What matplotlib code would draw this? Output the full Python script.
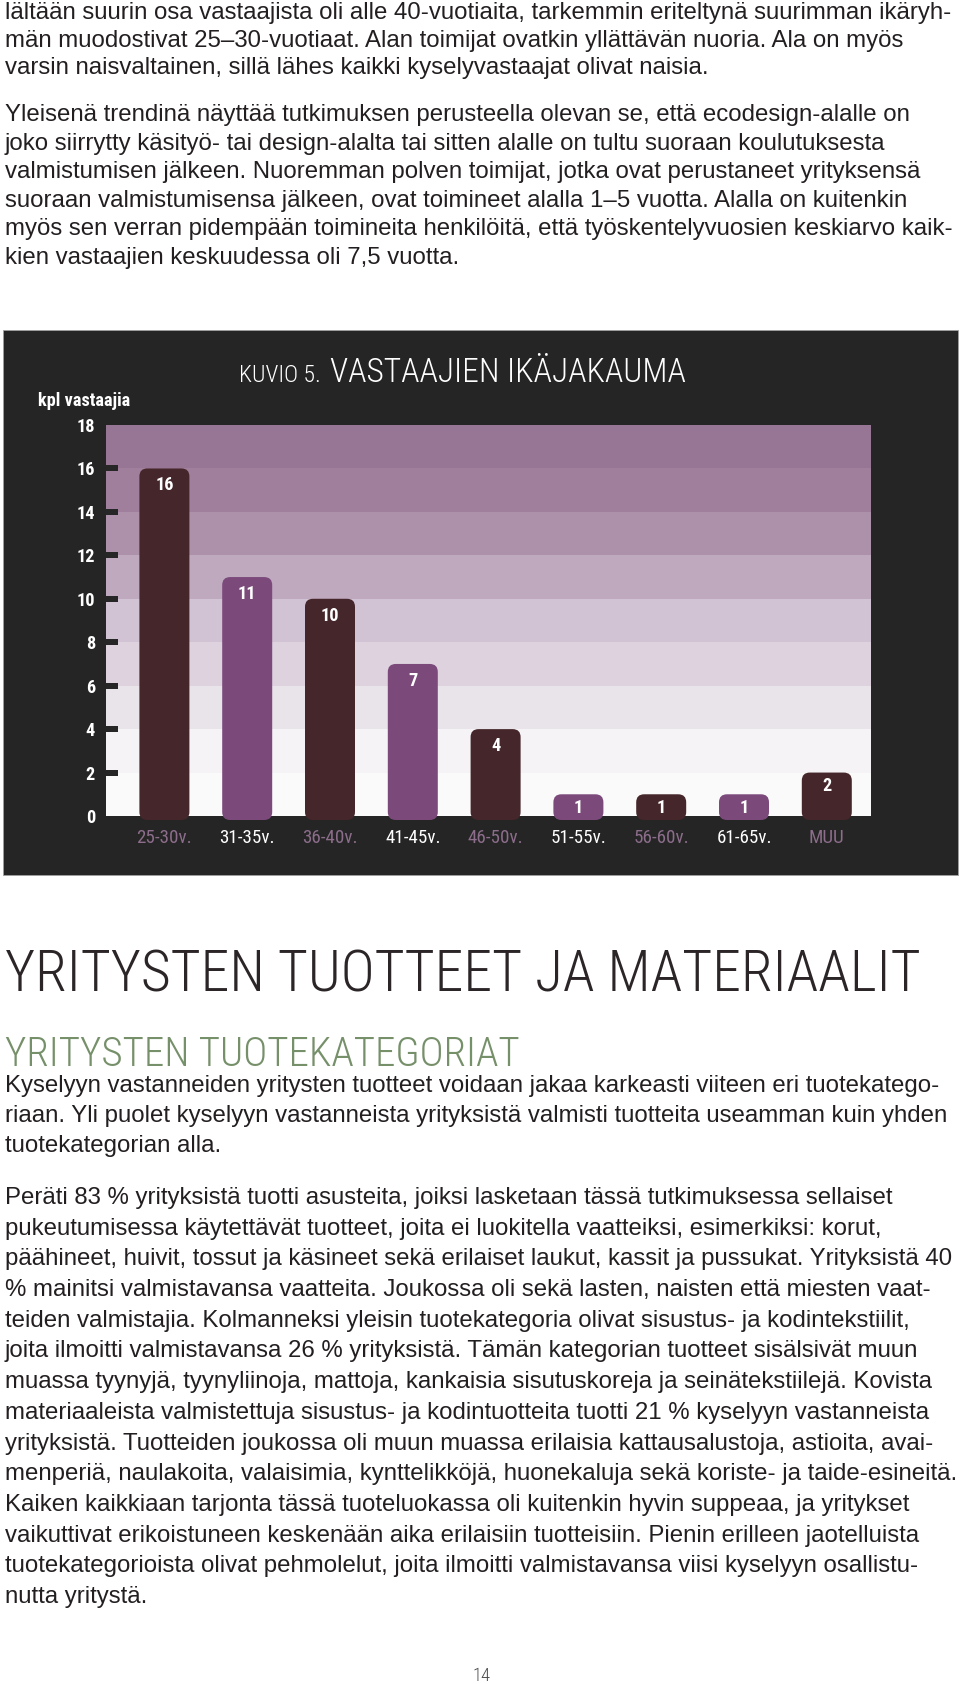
import os
import matplotlib
matplotlib.use("Agg")
import matplotlib.pyplot as plt
from matplotlib import font_manager as fm
from matplotlib.font_manager import FontProperties
from matplotlib.textpath import TextPath
from matplotlib.patches import Rectangle, FancyBboxPatch

W, H, DPI = 960, 1684, 100

# ---------------- data ----------------
categories = ["25-30v.", "31-35v.", "36-40v.", "41-45v.", "46-50v.",
              "51-55v.", "56-60v.", "61-65v.", "MUU"]
counts = [16, 11, 10, 7, 4, 1, 1, 1, 2]
ytick_values = [0, 2, 4, 6, 8, 10, 12, 14, 16, 18]
ytick_labels = [str(v) for v in ytick_values]
y_axis_label = "kpl vastaajia"
chart_prefix = "KUVIO 5."
chart_title = "VASTAAJIEN IKÄJAKAUMA"

para1 = [
    "lältään suurin osa vastaajista oli alle 40-vuotiaita, tarkemmin eriteltynä suurimman ikäryh-",
    "män muodostivat 25–30-vuotiaat. Alan toimijat ovatkin yllättävän nuoria. Ala on myös",
    "varsin naisvaltainen, sillä lähes kaikki kyselyvastaajat olivat naisia.",
]
para2 = [
    "Yleisenä trendinä näyttää tutkimuksen perusteella olevan se, että ecodesign-alalle on",
    "joko siirrytty käsityö- tai design-alalta tai sitten alalle on tultu suoraan koulutuksesta",
    "valmistumisen jälkeen. Nuoremman polven toimijat, jotka ovat perustaneet yrityksensä",
    "suoraan valmistumisensa jälkeen, ovat toimineet alalla 1–5 vuotta. Alalla on kuitenkin",
    "myös sen verran pidempään toimineita henkilöitä, että työskentelyvuosien keskiarvo kaik-",
    "kien vastaajien keskuudessa oli 7,5 vuotta.",
]
heading = "YRITYSTEN TUOTTEET JA MATERIAALIT"
subheading = "YRITYSTEN TUOTEKATEGORIAT"
para3 = [
    "Kyselyyn vastanneiden yritysten tuotteet voidaan jakaa karkeasti viiteen eri tuotekatego-",
    "riaan. Yli puolet kyselyyn vastanneista yrityksistä valmisti tuotteita useamman kuin yhden",
    "tuotekategorian alla.",
]
para4 = [
    "Peräti 83 % yrityksistä tuotti asusteita, joiksi lasketaan tässä tutkimuksessa sellaiset",
    "pukeutumisessa käytettävät tuotteet, joita ei luokitella vaatteiksi, esimerkiksi: korut,",
    "päähineet, huivit, tossut ja käsineet sekä erilaiset laukut, kassit ja pussukat. Yrityksistä 40",
    "% mainitsi valmistavansa vaatteita. Joukossa oli sekä lasten, naisten että miesten vaat-",
    "teiden valmistajia. Kolmanneksi yleisin tuotekategoria olivat sisustus- ja kodintekstiilit,",
    "joita ilmoitti valmistavansa 26 % yrityksistä. Tämän kategorian tuotteet sisälsivät muun",
    "muassa tyynyjä, tyynyliinoja, mattoja, kankaisia sisutuskoreja ja seinätekstiilejä. Kovista",
    "materiaaleista valmistettuja sisustus- ja kodintuotteita tuotti 21 % kyselyyn vastanneista",
    "yrityksistä. Tuotteiden joukossa oli muun muassa erilaisia kattausalustoja, astioita, avai-",
    "menperiä, naulakoita, valaisimia, kynttelikköjä, huonekaluja sekä koriste- ja taide-esineitä.",
    "Kaiken kaikkiaan tarjonta tässä tuoteluokassa oli kuitenkin hyvin suppeaa, ja yritykset",
    "vaikuttivat erikoistuneen keskenään aika erilaisiin tuotteisiin. Pienin erilleen jaotelluista",
    "tuotekategorioista olivat pehmolelut, joita ilmoitti valmistavansa viisi kyselyyn osallistu-",
    "nutta yritystä.",
]
page_number = "14"

# ---------------- fonts ----------------
_files = {os.path.basename(f.fname).lower(): f.fname for f in fm.fontManager.ttflist}


def pick(cands, family, weight="normal"):
    for c in cands:
        if c.lower() in _files:
            return FontProperties(fname=_files[c.lower()])
    return FontProperties(family=family, weight=weight)


light_cond = pick(["RobotoCondensed-Light.ttf", "OpenSans_Condensed-Light.ttf",
                   "OpenSansCondensed-Light.ttf", "OpenSans-CondLight.ttf",
                   "LiberationSansNarrow-Regular.ttf", "DejaVuSansCondensed.ttf",
                   "Roboto-Light.ttf"], "Liberation Sans")
reg_cond = pick(["RobotoCondensed-Regular.ttf", "LiberationSansNarrow-Regular.ttf",
                 "OpenSans_Condensed-Regular.ttf", "DejaVuSansCondensed.ttf"],
                "Liberation Sans")
bold_cond = pick(["RobotoCondensed-Bold.ttf", "LiberationSansNarrow-Bold.ttf",
                  "OpenSans_Condensed-Bold.ttf", "DejaVuSansCondensed-Bold.ttf"],
                 "Liberation Sans", "bold")
body_fp = FontProperties(family="Liberation Sans")


def _ext(s, fp):
    return TextPath((0, 0), s, size=100, prop=fp).get_extents()


def pt_for_width(s, fp, wpx):
    return wpx * 72 / DPI / (_ext(s, fp).width / 100)


def pt_for_cap(fp, cap_px):
    return cap_px * 72 / DPI / (_ext("H", fp).height / 100)


def fit(s, fp, wpx=None, cap=None):
    c = []
    if wpx is not None:
        c.append(pt_for_width(s, fp, wpx))
    if cap is not None:
        c.append(pt_for_cap(fp, cap))
    p = fp.copy()
    p.set_size(min(c))
    return p


TEXT = "#231f20"

fig = plt.figure(figsize=(W / DPI, H / DPI), dpi=DPI, facecolor="white")
page = fig.add_axes([0, 0, 1, 1])
page.set_xlim(0, W)
page.set_ylim(H, 0)
page.axis("off")

# ---------------- body text ----------------
body_size = pt_for_width(para4[9], body_fp, 951)
bfp = body_fp.copy()
bfp.set_size(body_size)


def draw_para(lines, y0, dy):
    for i, line in enumerate(lines):
        page.text(5, y0 + i * dy, line, fontproperties=bfp, color=TEXT,
                  ha="left", va="baseline")


draw_para(para1, 19, 27.5)
draw_para(para2, 121, 28.6)
draw_para(para3, 1092, 30)
draw_para(para4, 1204, 30.7)

page.text(5, 992, heading, fontproperties=fit(heading, light_cond, 913, 50),
          color="#2b2528", ha="left", va="baseline")
page.text(5, 1066, subheading, fontproperties=fit(subheading, light_cond, 514, 38),
          color="#76906a", ha="left", va="baseline")
page.text(481, 1681, page_number, fontproperties=fit(page_number, light_cond, 16, 15),
          color="#4a4a4a", ha="center", va="baseline")

# ---------------- chart box ----------------
page.add_patch(Rectangle((3, 330), 955, 545, facecolor="#252525",
                         edgecolor="#a0a0a0", lw=0.6, zorder=1))
page.text(239, 382, chart_prefix, fontproperties=fit(chart_prefix, light_cond, 78, 18),
          color="white", ha="left", va="baseline", zorder=5)
page.text(330, 382, chart_title, fontproperties=fit(chart_title, light_cond, 355, 27),
          color="white", ha="left", va="baseline", zorder=5)
page.text(38, 406, y_axis_label, fontproperties=fit(y_axis_label, bold_cond, 94, 13),
          color="white", ha="left", va="baseline", zorder=5)

# plot area
X0, X1, Y0, Y1 = 106, 871, 425, 816
ax = fig.add_axes([X0 / W, 1 - Y1 / H, (X1 - X0) / W, (Y1 - Y0) / H])
step_px = 82.8
first_c = 164.4
xl = -(first_c - X0) / step_px
xr = (X1 - first_c) / step_px
ax.set_xlim(xl, xr)
ax.set_ylim(0, 18)
px_y = (Y1 - Y0) / 18.0

stripe_colors = ["#fafafa", "#f5f3f6", "#e9e3ea", "#ded2de", "#d2c3d4",
                 "#bfa9bf", "#ad91aa", "#a07f9c", "#977595"]
for k, c in enumerate(stripe_colors):
    ax.axhspan(2 * k, 2 * k + 2, color=c, lw=0, zorder=0)

for s in ax.spines.values():
    s.set_visible(False)

xs = list(range(len(categories)))
bar_colors = ["#45262a" if i % 2 == 0 else "#7b4a7b" for i in xs]
bars = ax.bar(xs, counts, width=50 / step_px, color=bar_colors, zorder=3)
ext = 4 / px_y
r = 8 / step_px
asp = step_px / px_y
for b in bars:
    b.set_visible(False)
    p = FancyBboxPatch((b.get_x(), -ext), b.get_width(), b.get_height() + ext,
                       boxstyle=f"round,pad=0,rounding_size={r}",
                       mutation_aspect=asp, facecolor=b.get_facecolor(),
                       edgecolor="none", clip_on=False, zorder=3)
    ax.add_patch(p)

val_fp = fit("16", bold_cond, 19, 13)
for x, v in zip(xs, counts):
    off = (17 if v >= 4 else 13.5) / px_y
    ax.text(x, v - off, str(v), fontproperties=val_fp, color="white",
            ha="center", va="center", zorder=4)

xl_fp = fit("31-35v.", reg_cond, 57, 13.5)
for x, lab in zip(xs, categories):
    ax.text(x, -(842.5 - Y1) / px_y, lab, fontproperties=xl_fp,
            color=("#8c6d8b" if x % 2 == 0 else "white"),
            ha="center", va="baseline", clip_on=False)

ax.set_xticks([])
ax.set_yticks(ytick_values)
ax.set_yticklabels(ytick_labels, fontproperties=fit("16", bold_cond, 19, 13))
ax.yaxis.remove_overlapping_locs = False
ax.set_yticks(ytick_values[1:-1], minor=True)
ax.tick_params(axis="y", which="major", length=0, pad=(X0 - 95) * 72 / DPI,
               labelcolor="white")
ax.tick_params(axis="y", which="minor", direction="in", length=12 * 72 / DPI,
               width=6 * 72 / DPI, color="#262626")

fig.savefig("out.png", dpi=DPI, facecolor="white")
